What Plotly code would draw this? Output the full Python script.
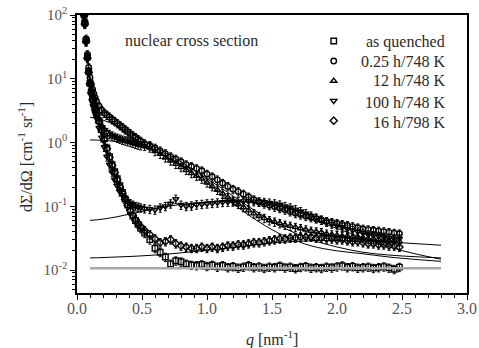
import plotly.graph_objects as go

# ---------------- data ----------------
q = [0.055, 0.06, 0.07, 0.08, 0.09, 0.10, 0.11, 0.12, 0.13, 0.14, 0.15, 0.17, 0.19, 0.21, 0.23,
     0.25, 0.27, 0.29, 0.31, 0.33, 0.35, 0.37, 0.39, 0.41, 0.43, 0.45, 0.47, 0.49, 0.52, 0.56,
     0.60, 0.64, 0.68, 0.72, 0.76, 0.80, 0.84, 0.88, 0.92, 0.96, 1.00, 1.04, 1.08, 1.12, 1.16,
     1.20, 1.24, 1.28, 1.32, 1.36, 1.40, 1.44, 1.48, 1.52, 1.56, 1.60, 1.64, 1.68, 1.72, 1.76,
     1.80, 1.84, 1.88, 1.92, 1.96, 2.00, 2.04, 2.08, 2.12, 2.16, 2.20, 2.24, 2.28, 2.32, 2.36,
     2.40, 2.44, 2.48]

as_quenched = [100, 75, 40, 22, 13, 8.5, 6.2, 4.8, 4.0, 3.4, 2.9, 2.2, 1.6, 1.15, 0.82,
               0.6, 0.45, 0.35, 0.27, 0.21, 0.165, 0.13, 0.105, 0.085, 0.07, 0.06, 0.052, 0.045, 0.038, 0.03,
               0.022, 0.019, 0.016, 0.0125, 0.014, 0.0135, 0.0125, 0.012, 0.0118, 0.0122, 0.0115, 0.012, 0.0112, 0.0118, 0.011,
               0.0114, 0.0108, 0.0112, 0.0118, 0.011, 0.0113, 0.0107, 0.0112, 0.011, 0.0116, 0.0109, 0.0112, 0.0106, 0.0111, 0.0114,
               0.0108, 0.011, 0.0107, 0.0112, 0.0109, 0.0113, 0.0117, 0.011, 0.0114, 0.0108, 0.011, 0.0112, 0.0107, 0.011, 0.0113,
               0.0108, 0.0103, 0.0111]

h025_748 = [105, 78, 42, 24, 15, 10.5, 8.2, 6.8, 5.8, 5.0, 4.4, 3.7, 3.2, 2.9, 2.7,
            2.5, 2.3, 2.15, 2.0, 1.85, 1.72, 1.6, 1.48, 1.38, 1.28, 1.2, 1.12, 1.05, 0.96, 0.9,
            0.82, 0.74, 0.67, 0.6, 0.55, 0.5, 0.45, 0.42, 0.39, 0.36, 0.32, 0.29, 0.26, 0.23, 0.205,
            0.185, 0.17, 0.155, 0.14, 0.127, 0.117, 0.11, 0.104, 0.098, 0.093, 0.088, 0.083, 0.078, 0.074, 0.07,
            0.067, 0.064, 0.061, 0.058, 0.056, 0.054, 0.052, 0.05, 0.048, 0.046, 0.044, 0.043, 0.042, 0.041, 0.04,
            0.039, 0.038, 0.037]

h12_748 = [102, 76, 40, 22, 13, 9.0, 6.8, 5.3, 4.3, 3.6, 3.0, 2.3, 1.85, 1.6, 1.45,
           1.35, 1.28, 1.22, 1.18, 1.14, 1.1, 1.07, 1.04, 1.01, 0.98, 0.95, 0.92, 0.9, 0.88, 0.83,
           0.73, 0.66, 0.58, 0.52, 0.46, 0.41, 0.37, 0.33, 0.3, 0.27, 0.235, 0.205, 0.18, 0.158, 0.138,
           0.122, 0.108, 0.096, 0.086, 0.077, 0.07, 0.065, 0.06, 0.057, 0.054, 0.051, 0.049, 0.047, 0.045, 0.043,
           0.041, 0.04, 0.039, 0.037, 0.036, 0.035, 0.034, 0.034, 0.033, 0.033, 0.032, 0.031, 0.031, 0.03, 0.03,
           0.029, 0.029, 0.028]

h100_748 = [100, 74, 39, 21, 12.5, 8.0, 5.9, 4.5, 3.6, 2.9, 2.4, 1.7, 1.2, 0.85, 0.6,
            0.45, 0.34, 0.26, 0.21, 0.17, 0.15, 0.13, 0.12, 0.11, 0.105, 0.1, 0.098, 0.095, 0.092, 0.09,
            0.088, 0.095, 0.1, 0.11, 0.13, 0.105, 0.1, 0.102, 0.106, 0.108, 0.11, 0.112, 0.114, 0.116, 0.117,
            0.118, 0.119, 0.12, 0.12, 0.119, 0.118, 0.116, 0.113, 0.11, 0.106, 0.1, 0.095, 0.089, 0.083, 0.077,
            0.071, 0.066, 0.061, 0.057, 0.053, 0.05, 0.047, 0.044, 0.042, 0.04, 0.038, 0.036, 0.035, 0.034, 0.033,
            0.032, 0.031, 0.031]

h16_798 = [98, 72, 38, 21, 12.5, 8.2, 6.0, 4.7, 3.9, 3.3, 2.8, 2.1, 1.55, 1.1, 0.8,
           0.58, 0.44, 0.34, 0.26, 0.2, 0.16, 0.128, 0.104, 0.086, 0.072, 0.062, 0.054, 0.048, 0.042, 0.036,
           0.031, 0.027, 0.028, 0.03, 0.026, 0.024, 0.023, 0.022, 0.022, 0.023, 0.022, 0.023, 0.022, 0.023, 0.024,
           0.024, 0.025, 0.025, 0.026, 0.027, 0.027, 0.028, 0.029, 0.03, 0.031, 0.031, 0.032, 0.032, 0.033, 0.033,
           0.033, 0.032, 0.032, 0.031, 0.031, 0.03, 0.03, 0.029, 0.028, 0.028, 0.027, 0.026, 0.026, 0.025, 0.025,
           0.024, 0.024, 0.023]

# model (fit) curves
q_fit = [0.1, 0.2, 0.3, 0.4, 0.5, 0.6, 0.7, 0.8, 0.9, 1.0, 1.1, 1.2, 1.3, 1.4, 1.5, 1.6,
         1.8, 2.0, 2.2, 2.4, 2.6, 2.8]
fit_as_quenched = [0.0107, 0.0107, 0.0107, 0.0107, 0.0107, 0.0107, 0.0107, 0.0107,
                   0.0107, 0.0107, 0.0107, 0.0107, 0.0107, 0.0107, 0.0107, 0.0107,
                   0.0107, 0.0107, 0.0107, 0.0107, 0.0107, 0.0107]
fit_h025 = [2.5, 2.25, 1.85, 1.45, 1.12, 0.86, 0.66, 0.5, 0.37, 0.27, 0.2, 0.145, 0.105, 0.078, 0.058, 0.045,
            0.03, 0.023, 0.019, 0.0172, 0.0162, 0.0155]
fit_h12 = [1.1, 1.08, 1.04, 0.97, 0.86, 0.72, 0.57, 0.44, 0.32, 0.23, 0.16, 0.11, 0.078, 0.057, 0.043, 0.034,
           0.024, 0.02, 0.018, 0.016, 0.0147, 0.0137]
fit_h100 = [0.06, 0.063, 0.068, 0.075, 0.083, 0.092, 0.1, 0.107, 0.112, 0.116, 0.118, 0.119, 0.117, 0.11, 0.1, 0.088,
            0.063, 0.045, 0.032, 0.023, 0.018, 0.0148]
fit_h16 = [0.0155, 0.0157, 0.016, 0.0163, 0.0167, 0.0172, 0.0178, 0.0186, 0.0195, 0.0205, 0.0215, 0.0227, 0.024, 0.0252, 0.0265, 0.0275,
           0.0288, 0.029, 0.0285, 0.0275, 0.026, 0.0245]

labels = ["as quenched", "0.25 h/748 K", "12 h/748 K", "100 h/748 K", "16 h/798 K"]

y_tickvals = [0.01, 0.1, 1, 10, 100]
y_ticktext = ["10<sup>-2</sup>", "10<sup>-1</sup>", "10<sup>0</sup>", "10<sup>1</sup>", "10<sup>2</sup>"]
# --------------------------------------

series = [as_quenched, h025_748, h12_748, h100_748, h16_798]
symbols = ["square-open", "circle-open", "triangle-up-open", "triangle-down-open", "diamond-open"]
fits = [fit_as_quenched, fit_h025, fit_h12, fit_h100, fit_h16]
NB = "\u00a0"

FONT = "Liberation Serif"
TXT = "#2a2a2a"
fig = go.Figure()

for ys, sym, lab in zip(series, symbols, labels):
    fig.add_trace(go.Scatter(
        x=q, y=ys, mode="markers", name=NB, legendgroup=lab, hovertext=lab,
        marker=dict(symbol=sym, size=5.5, color="black", line=dict(width=1.4, color="black")),
        error_y=dict(type="percent", value=15, color="black", thickness=1, width=1.5),
    ))

for i, fy in enumerate(fits):
    fig.add_trace(go.Scatter(
        x=q_fit, y=fy, mode="lines", showlegend=False,
        line=dict(color="#a8a8a8" if i == 0 else "black", width=2.5 if i == 0 else 1, shape="spline"),
    ))

axis_common = dict(
    showline=True, linecolor="black", linewidth=1.5, mirror=True,
    ticks="outside", tickcolor="black", tickwidth=1, ticklen=5,
    showgrid=False, zeroline=False, automargin=False, ticklabeloverflow="allow",
)

fig.update_xaxes(
    range=[0, 3.0], dtick=0.5, tick0=0, tickformat=".1f", ticklabelstandoff=-5,
    minor=dict(ticks="outside", ticklen=3, dtick=0.1, tickcolor="black", showgrid=False),
    tickfont=dict(family=FONT, size=16, color="#555"),
    **axis_common,
)
fig.update_yaxes(
    type="log", range=[-2.36, 2], tickmode="array", tickvals=y_tickvals, ticktext=y_ticktext,
    minor=dict(ticks="outside", ticklen=3, dtick="D1", tickcolor="black", showgrid=False),
    tickfont=dict(family=FONT, size=15, color="#555"),
    **axis_common,
)

# axis titles
fig.add_annotation(
    xref="paper", yref="paper", x=0.5, y=-0.162, xanchor="center", yanchor="middle",
    text="<i>q</i> [nm<sup>-1</sup>]", showarrow=False,
    font=dict(family=FONT, size=16, color=TXT),
)
fig.add_annotation(
    xref="paper", yref="paper", x=-0.133, y=0.49, xanchor="center", yanchor="middle",
    text="dΣ/dΩ [cm<sup>-1</sup> sr<sup>-1</sup>]", showarrow=False, textangle=-90,
    font=dict(family=FONT, size=16, color=TXT),
)

fig.add_annotation(
    xref="paper", yref="paper", x=0.118, y=0.91, xanchor="left", yanchor="middle",
    text="nuclear cross section", showarrow=False,
    font=dict(family=FONT, size=16, color=TXT),
)

# legend labels, right-aligned next to the legend symbols
label_rows = [0.903, 0.831, 0.763, 0.687, 0.615]
for lab, yy in zip(labels, label_rows):
    fig.add_annotation(
        xref="paper", yref="paper", x=0.9487, y=yy, xanchor="right", yanchor="middle",
        text=lab, showarrow=False, font=dict(family=FONT, size=16, color=TXT),
    )

fig.update_layout(
    width=479, height=348,
    margin=dict(l=77, r=12, t=15, b=55, autoexpand=False),
    paper_bgcolor="white", plot_bgcolor="white",
    showlegend=True,
    legend=dict(
        x=0.607, y=0.96, xanchor="left", yanchor="top",
        bgcolor="rgba(0,0,0,0)", borderwidth=0,
        font=dict(family=FONT, size=13, color=TXT),
        itemwidth=30, tracegroupgap=0,
    ),
)

fig.write_html("out.html", config={"displayModeBar": False},
               post_script="document.body.style.margin='0px';")
